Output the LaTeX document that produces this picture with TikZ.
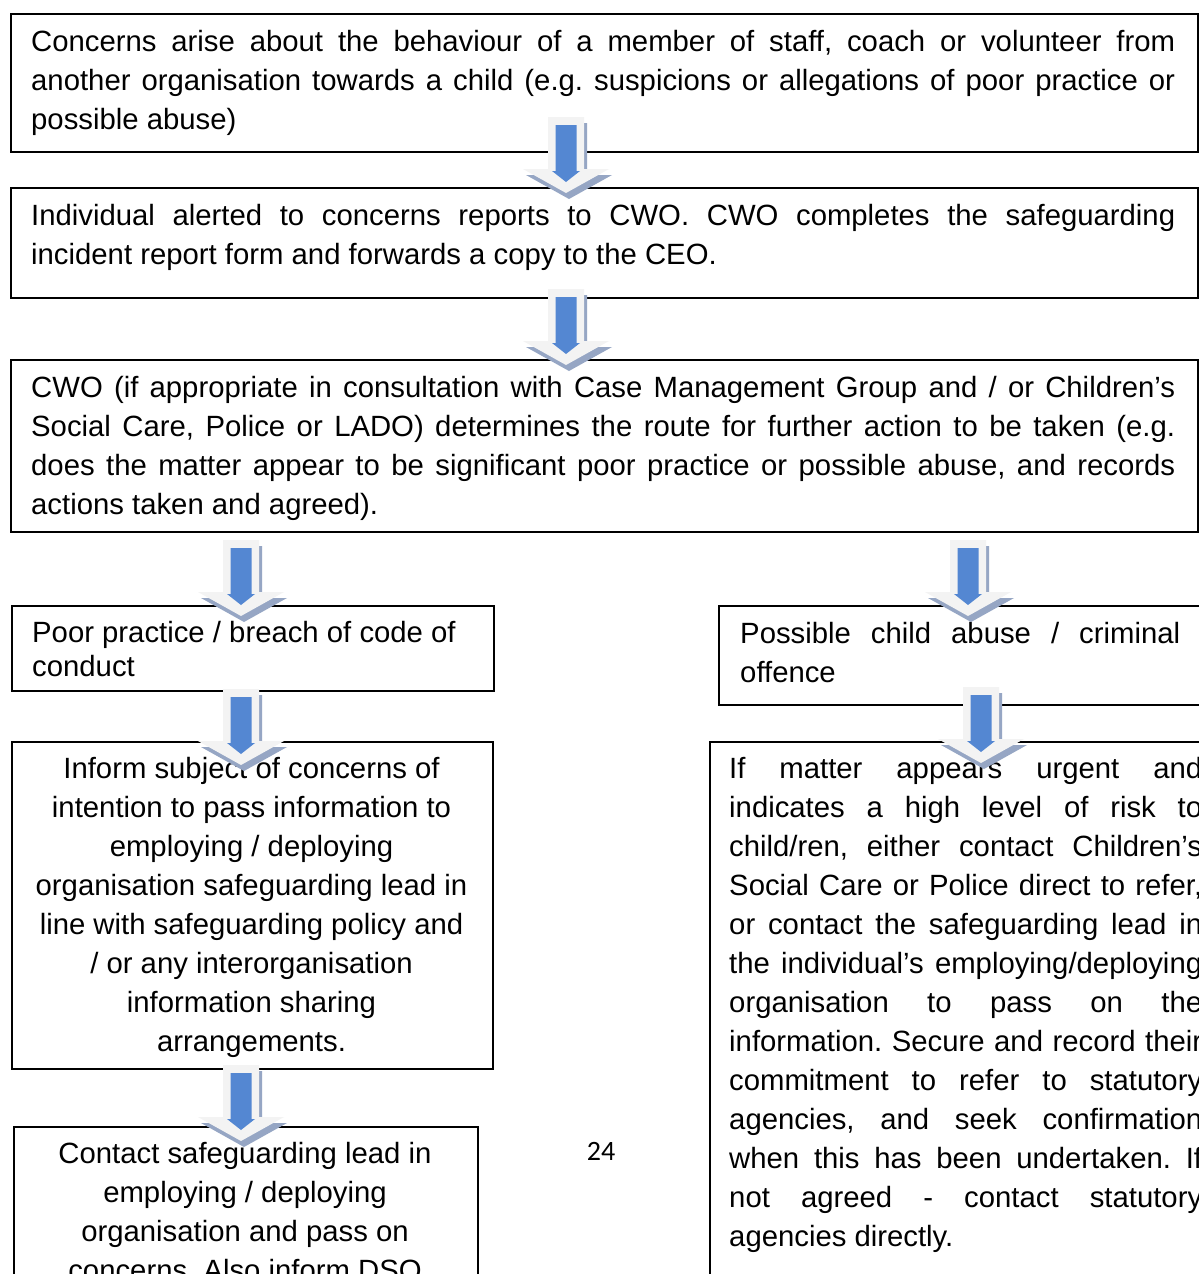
\documentclass[tikz,border=0pt]{standalone}
\usepackage{fontspec}
\setmainfont{Liberation Sans}
\newfontfamily\pagenumfont{Carlito}
\usetikzlibrary{calc}
\definecolor{arrblue}{RGB}{84,135,210}
\definecolor{arrshadow}{RGB}{150,166,196}
\definecolor{arrlight}{RGB}{243,243,243}
\newcommand\rs{\spaceskip=0pt\xspaceskip=0pt\relax}
\newcommand\jl[2]{\makebox[#1][s]{\spaceskip=.278em plus 1fil\xspaceskip=.278em plus 1fil\relax #2}\\}
\newcommand\bodyfont{\fontsize{29.3}{39}\selectfont\frenchspacing}
\tikzset{
  boxst/.style={draw=black, line width=1.6pt, inner sep=0pt, rectangle, fill=white, anchor=north west},
  txt/.style={inner sep=0pt, font=\bodyfont, anchor=base west},
  ctxt/.style={inner sep=0pt, font=\bodyfont, anchor=base},
  blockarrow/.pic={
    \fill[arrshadow] (-15,6) -- (21,6) -- (21,58) -- (46,58) -- (3,82) -- (-40,58) -- (-15,58) -- cycle;
    \fill[arrlight] (-18,0) -- (18,0) -- (18,52) -- (43,52) -- (0,76) -- (-43,52) -- (-18,52) -- cycle;
    \fill[arrblue] (-10.5,8) -- (10.5,8) -- (10.5,54) -- (14,54) -- (0,65) -- (-14,54) -- (-10.5,54) -- cycle;
  }
}
\begin{document}
\begin{tikzpicture}[x=1pt,y=-1pt]
\useasboundingbox (0,0) rectangle (1199,1274);
\clip (0,0) rectangle (1199,1274);
\fill[white] (0,0) rectangle (1199,1274);

% boxes
\node[boxst, minimum width=1187pt, minimum height=138pt] (b1) at (10,13) {};
\node[boxst, minimum width=1187pt, minimum height=110pt] (b2) at (10,187) {};
\node[boxst, minimum width=1187pt, minimum height=172pt] (b3) at (10,359) {};
\node[boxst, minimum width=482pt, minimum height=85pt] (b4) at (11,605) {};
\node[boxst, minimum width=500pt, minimum height=99pt] (b5) at (718,605) {};
\node[boxst, minimum width=481pt, minimum height=327pt] (b6) at (11,741) {};
\node[boxst, minimum width=520pt, minimum height=600pt] (b7) at (709,741) {};
\node[boxst, minimum width=464pt, minimum height=300pt] (b8) at (13,1126) {};

% texts
\node[txt, text width=1144pt] (t1) at (31,51) {\rs
\jl{1144pt}{Concerns arise about the behaviour of a member of staff, coach or volunteer from}%
\jl{1144pt}{another organisation towards a child (e.g. suspicions or allegations of poor practice or}%
possible abuse)};
\node[txt, text width=1144pt] (t2) at (31,225) {\rs
\jl{1144pt}{Individual alerted to concerns reports to CWO. CWO completes the safeguarding}%
incident report form and forwards a copy to the CEO.};
\node[txt, text width=1144pt] (t3) at (31,397) {\rs
\jl{1144pt}{CWO (if appropriate in consultation with Case Management Group and / or Children’s}%
\jl{1144pt}{Social Care, Police or LADO) determines the route for further action to be taken (e.g.}%
\jl{1144pt}{does the matter appear to be significant poor practice or possible abuse, and records}%
actions taken and agreed).};
\node[txt, text width=450pt, font=\fontsize{29.3}{34}\selectfont] (t4) at (32,642) {\rs
Poor practice / breach of code of\\conduct};
\node[txt, text width=440pt] (t5) at (740,643) {\rs
\jl{440pt}{Possible child abuse / criminal}%
offence};
\node[ctxt, text width=470pt] (t6) at (251.5,778) {\rs\centering
Inform subject of concerns of\\
intention to pass information to\\
employing / deploying\\
organisation safeguarding lead in\\
line with safeguarding policy and\\
/ or any interorganisation\\
information sharing\\
arrangements.\par};
\node[txt, text width=473pt] (t7) at (729,778) {\rs
\jl{473pt}{If matter appears urgent and}%
\jl{473pt}{indicates a high level of risk to}%
\jl{473pt}{child/ren, either contact Children’s}%
\jl{473pt}{Social Care or Police direct to refer,}%
\jl{473pt}{or contact the safeguarding lead in}%
\jl{473pt}{the individual’s employing/deploying}%
\jl{473pt}{organisation to pass on the}%
\jl{473pt}{information. Secure and record their}%
\jl{473pt}{commitment to refer to statutory}%
\jl{473pt}{agencies, and seek confirmation}%
\jl{473pt}{when this has been undertaken. If}%
\jl{473pt}{not agreed - contact statutory}%
agencies directly.};
\node[ctxt, text width=450pt] (t8) at (245,1163) {\rs\centering
Contact safeguarding lead in\\
employing / deploying\\
organisation and pass on\\
concerns. Also inform DSO\par};
\node[inner sep=0pt, anchor=base, font=\pagenumfont\fontsize{28}{34}\selectfont] (pn) at (601,1160) {24};

% block arrows
\coordinate (a1) at (566,117);
\coordinate (a2) at (566,289);
\coordinate (a3) at (241,540);
\coordinate (a4) at (968,540);
\coordinate (a5) at (241,689);
\coordinate (a6) at (981,687);
\coordinate (a7) at (241,1065);
\foreach \a in {a1,a2,a3,a4,a5,a6,a7} { \pic at (\a) {blockarrow}; }
\end{tikzpicture}
\end{document}
